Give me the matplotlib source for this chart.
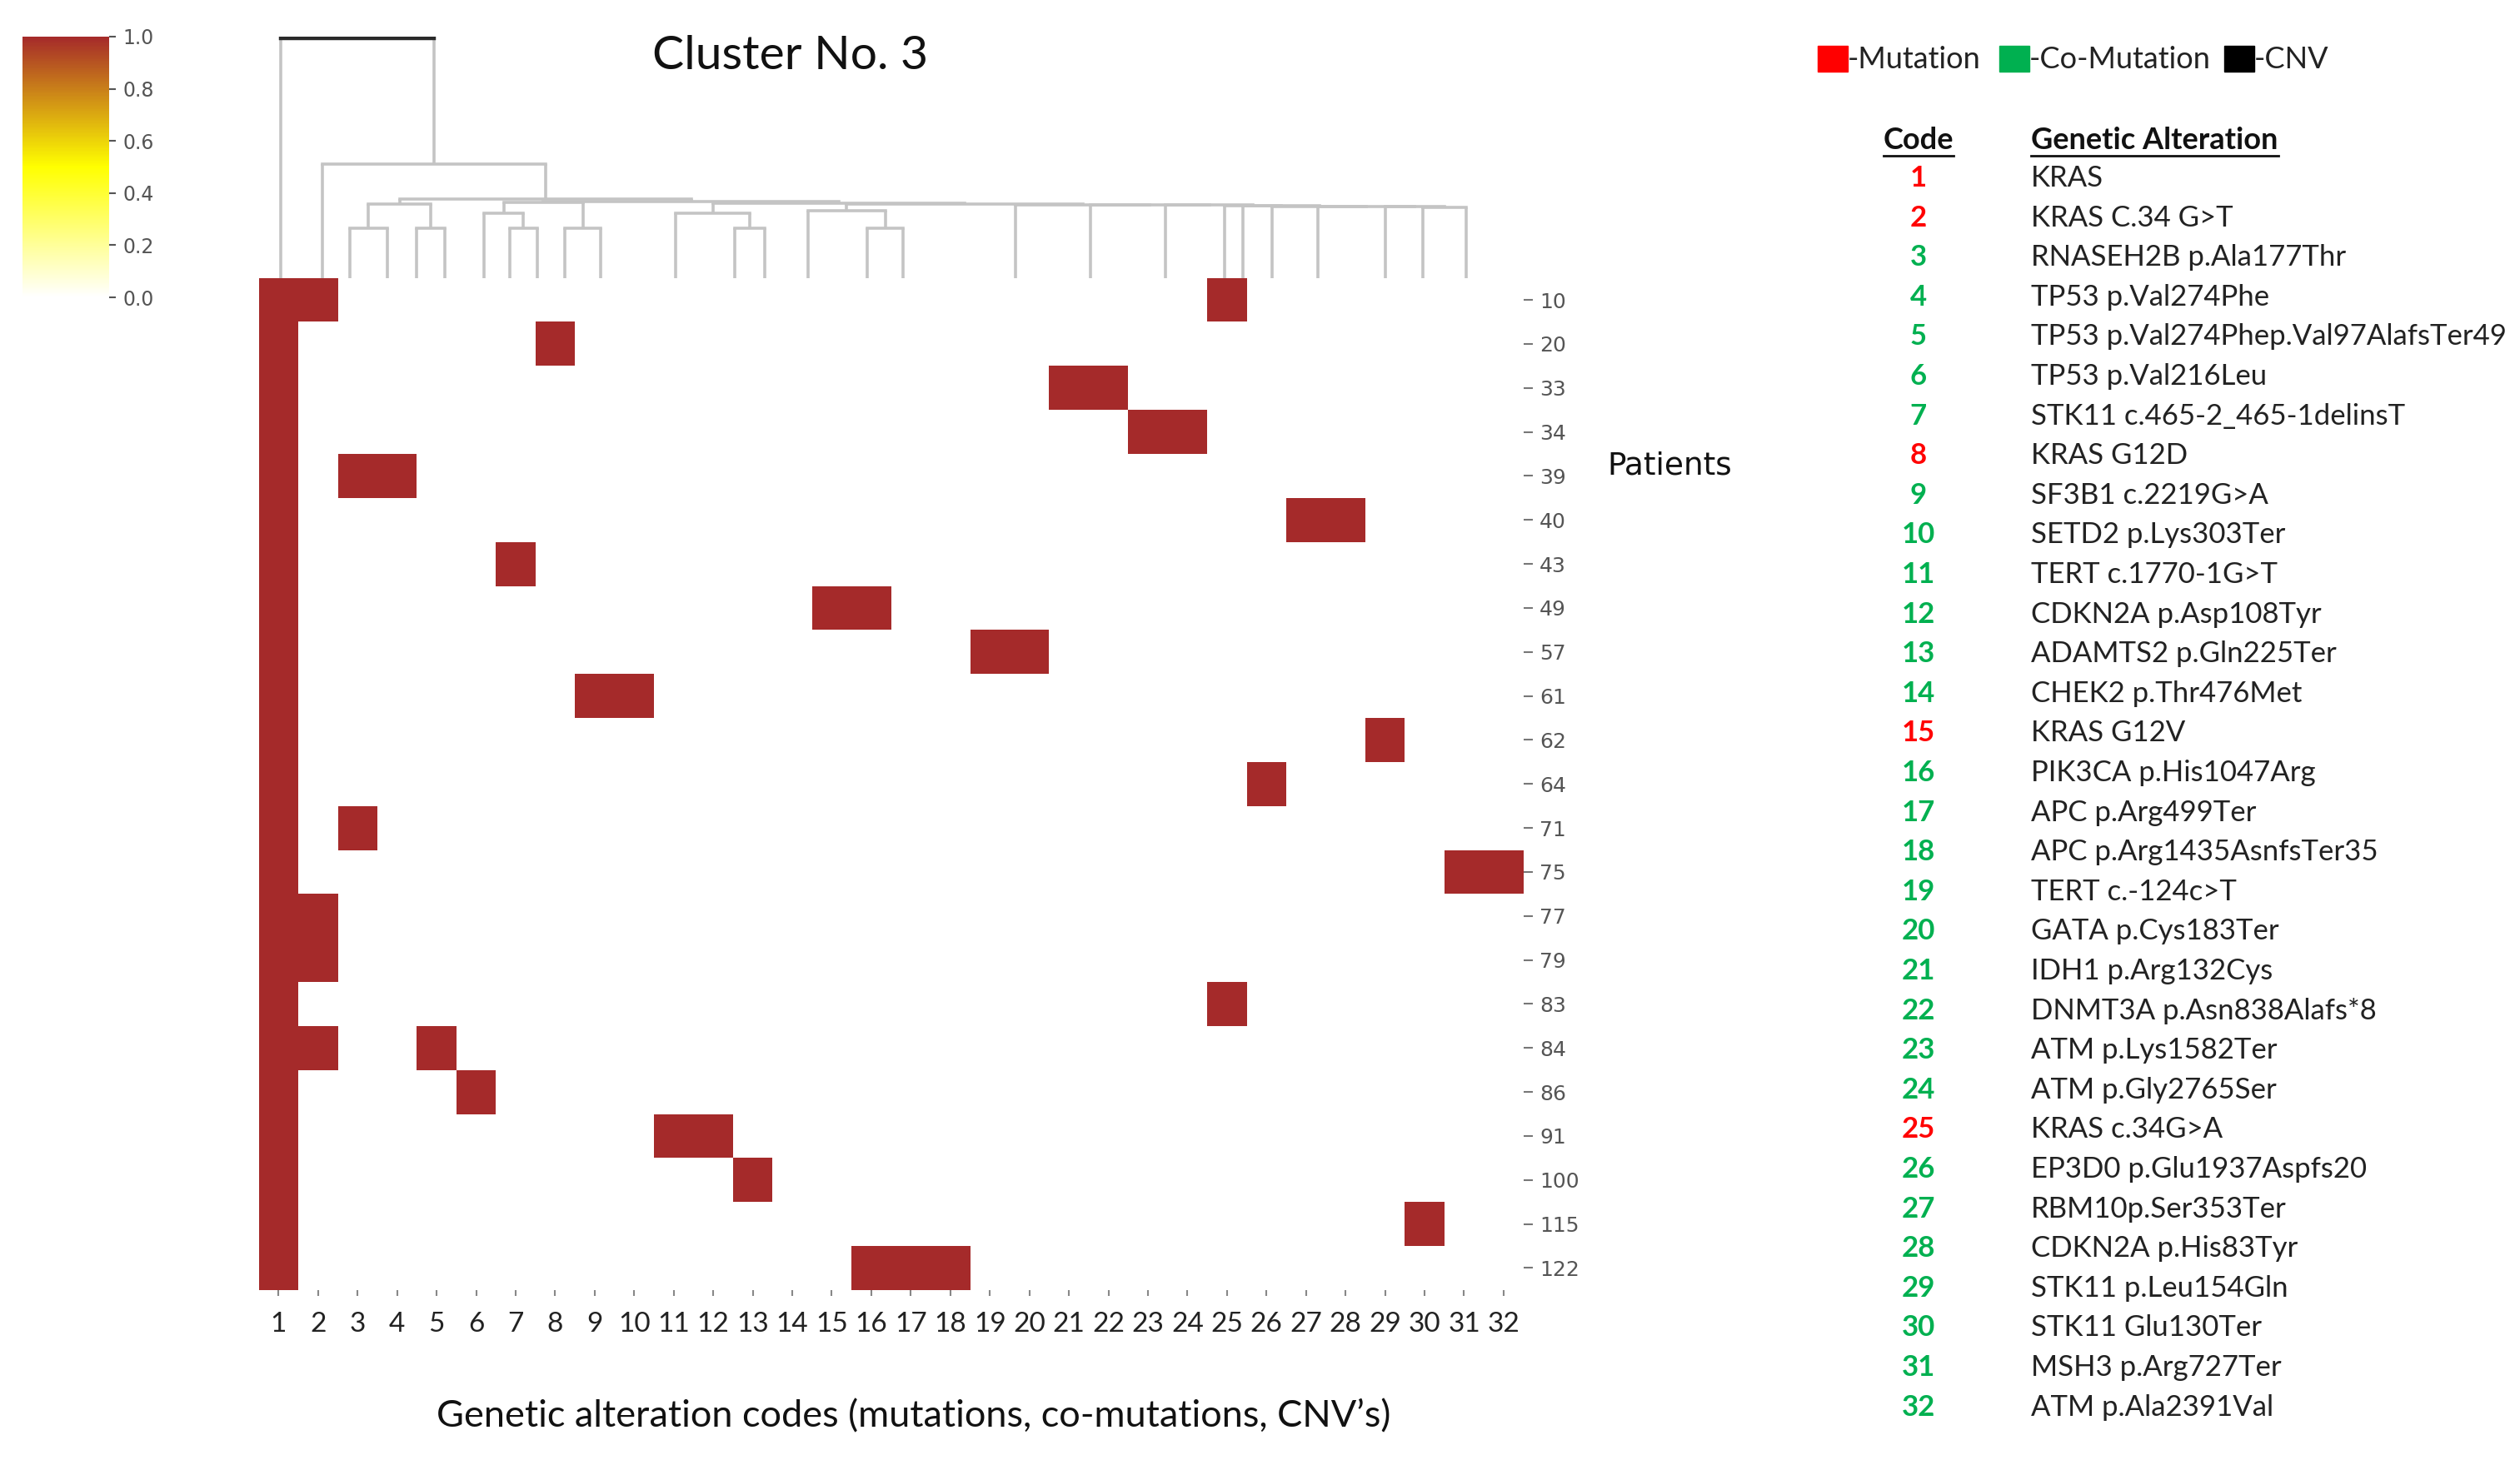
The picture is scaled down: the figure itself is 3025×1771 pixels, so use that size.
import numpy as np
import matplotlib
matplotlib.use("Agg")
import matplotlib.pyplot as plt
from matplotlib.colors import LinearSegmentedColormap, Normalize
from matplotlib.cm import ScalarMappable
from matplotlib.patches import Rectangle
from matplotlib.lines import Line2D

NARROW = ["Lato", "DejaVu Sans"]

# ---- data ----
codes = list(range(1, 33))
patients = ["10", "20", "33", "34", "39", "40", "43", "49", "57", "61", "62", "64",
            "71", "75", "77", "79", "83", "84", "86", "91", "100", "115", "122"]

# codes altered in each patient
hits = {
    "10": [1, 2, 25], "20": [1, 8], "33": [1, 21, 22], "34": [1, 23, 24],
    "39": [1, 3, 4], "40": [1, 27, 28], "43": [1, 7], "49": [1, 15, 16],
    "57": [1, 19, 20], "61": [1, 9, 10], "62": [1, 29], "64": [1, 26],
    "71": [1, 3], "75": [1, 31, 32], "77": [1, 2], "79": [1, 2],
    "83": [1, 25], "84": [1, 2, 5], "86": [1, 6], "91": [1, 11, 12],
    "100": [1, 13], "115": [1, 30], "122": [1, 16, 17, 18],
}

alterations = [
    "KRAS", "KRAS C.34 G>T", "RNASEH2B p.Ala177Thr", "TP53 p.Val274Phe",
    "TP53 p.Val274Phep.Val97AlafsTer49", "TP53 p.Val216Leu",
    "STK11 c.465-2_465-1delinsT", "KRAS G12D", "SF3B1 c.2219G>A",
    "SETD2 p.Lys303Ter", "TERT c.1770-1G>T", "CDKN2A p.Asp108Tyr",
    "ADAMTS2 p.Gln225Ter", "CHEK2 p.Thr476Met", "KRAS G12V",
    "PIK3CA p.His1047Arg", "APC p.Arg499Ter", "APC p.Arg1435AsnfsTer35",
    "TERT c.-124c>T", "GATA p.Cys183Ter", "IDH1 p.Arg132Cys",
    "DNMT3A p.Asn838Alafs*8", "ATM p.Lys1582Ter", "ATM p.Gly2765Ser",
    "KRAS c.34G>A", "EP3D0 p.Glu1937Aspfs20", "RBM10p.Ser353Ter",
    "CDKN2A p.His83Tyr", "STK11 p.Leu154Gln", "STK11 Glu130Ter",
    "MSH3 p.Arg727Ter", "ATM p.Ala2391Val",
]
mutation_codes = [1, 2, 8, 15, 25]

# dendrogram: leaf positions (column units) and merges (name, left, right, height)
leaf_x = [0.55, 1.6, 2.3, 3.25, 4.0, 4.7, 5.7, 6.35, 7.05, 7.75, 8.65, 10.55,
          12.05, 12.8, 13.9, 15.4, 16.3, 19.15, 21.05, 22.95, 24.45, 24.9,
          25.65, 26.8, 28.5, 29.45, 30.55]
links = [
    ("A", 2, 3, 31), ("B", 4, 5, 31), ("C", 7, 8, 31), ("D", 9, 10, 31),
    ("F", 12, 13, 31), ("G", 15, 16, 31),
    ("C2", 6, "C", 40), ("E", 11, "F", 40), ("G2", 14, "G", 42),
    ("AB", "A", "B", 46), ("CD", "C2", "D", 47),
    ("K1", 25, 26, 44.0), ("K2", 24, "K1", 44.2), ("K3", 23, "K2", 44.4),
    ("K4", 22, "K3", 44.6), ("K5", 21, "K4", 44.8), ("K6", 20, "K5", 45.0),
    ("K7", 19, "K6", 45.2), ("K8", 18, "K7", 45.4), ("K9", 17, "K8", 45.6),
    ("V", "G2", "K9", 46.0), ("W", "E", "V", 46.5), ("Q", "CD", "W", 47.5),
    ("N3", "AB", "Q", 49), ("N2", 1, "N3", 71), ("ROOT", 0, "N2", 149),
]

# ---- figure ----
mat = np.zeros((len(patients), len(codes)))
for i, p in enumerate(patients):
    for c in hits[p]:
        mat[i, c - 1] = 1

cmap = LinearSegmentedColormap.from_list(
    "wyb", [(0, "#ffffff"), (0.5, "#ffff00"), (1, "#a52a2a")])

fig = plt.figure(figsize=(30.25, 17.71), dpi=100)

# heatmap
ax = fig.add_axes([0.1027, 0.1254, 0.5018, 0.6862])
ax.pcolormesh(np.arange(len(codes) + 1), np.arange(len(patients) + 1), mat,
              cmap=cmap, vmin=0, vmax=1)
ax.set_xlim(0, len(codes))
ax.set_ylim(len(patients), 0)
ax.set_xticks(np.arange(len(codes)) + 0.5)
ax.set_xticklabels(codes, family=NARROW, fontsize=24, color="#222222")
ax.set_yticks(np.arange(len(patients)) + 0.5)
ax.set_yticklabels(patients, family="DejaVu Sans", fontsize=18, color="#555555")
ax.yaxis.tick_right()
ax.tick_params(axis="x", length=5, width=1.5, color="#888888", pad=14)
ax.tick_params(axis="y", length=8, width=1.5, color="#777777", pad=6)
for s in ax.spines.values():
    s.set_visible(False)
ax.set_xlabel("Genetic alteration codes (mutations, co-mutations, CNV\u2019s)",
              family=NARROW, fontsize=32.5, color="#111111")
ax.xaxis.set_label_coords(0.518, -0.108)

# dendrogram
dax = fig.add_axes([0.1027, 0.8116, 0.5018, 0.1636])
dax.set_xlim(0, len(codes))
dax.set_ylim(0, 150)
dax.axis("off")
pos = {i: (x, 0) for i, x in enumerate(leaf_x)}
for name, a, b, h in links:
    xa, ha = pos[a]
    xb, hb = pos[b]
    dax.plot([xa, xa], [ha, h], color="#c4c4c4", lw=2.6, solid_capstyle="butt")
    dax.plot([xb, xb], [hb, h], color="#c4c4c4", lw=2.6, solid_capstyle="butt")
    dax.plot([xa, xb], [h, h], color="#2a2a2a" if name == "ROOT" else "#c4c4c4",
             lw=3.2 if name == "ROOT" else 2.6)
    pos[name] = ((xa + xb) / 2, h)

# colorbar
cax = fig.add_axes([0.0089, 0.7984, 0.0344, 0.1768])
cb = fig.colorbar(ScalarMappable(norm=Normalize(0, 1), cmap=cmap), cax=cax,
                  ticks=[0, 0.2, 0.4, 0.6, 0.8, 1.0])
cb.outline.set_visible(False)
cax.set_yticklabels(["0.0", "0.2", "0.4", "0.6", "0.8", "1.0"])
cax.tick_params(labelsize=17, colors="#555555", length=6, width=1.5, pad=6)

# titles
fig.text(0.3137, 0.962, "Cluster No. 3", family=NARROW, fontsize=41,
         ha="center", va="center", color="#111111")
fig.text(0.6377, 0.684, "Patients", family="DejaVu Sans", fontsize=27,
         ha="left", va="center", color="#111111")

# type legend
legend_items = [("#ff0000", "-Mutation", 0.7213), ("#00b050", "-Co-Mutation", 0.7934),
                ("#000000", "-CNV", 0.8826)]
for color, label, x0 in legend_items:
    fig.add_artist(Rectangle((x0, 0.9515), 0.0119, 0.0175, color=color,
                             transform=fig.transFigure))
    fig.text(x0 + 0.0119, 0.9595, label, family=NARROW, fontsize=26,
             ha="left", va="center", color="#222222")

# code table
code_x, alt_x = 0.7613, 0.806
head_y, row0_y, row_dy = 0.905, 0.8792, 0.02688
h1 = fig.text(code_x, head_y, "Code", family=NARROW, fontsize=26,
              fontweight="bold", ha="center", va="center", color="#111111")
h2 = fig.text(alt_x, head_y, "Genetic Alteration", family=NARROW, fontsize=26,
              fontweight="bold", ha="left", va="center", color="#111111")
renderer = fig.canvas.get_renderer()
W, H = fig.bbox.width, fig.bbox.height
for t in (h1, h2):
    bb = t.get_window_extent(renderer)
    fig.add_artist(Line2D([bb.x0 / W, bb.x1 / W], [bb.y0 / H - 0.001] * 2,
                          color="#111111", lw=2, transform=fig.transFigure))

for i, (c, alt) in enumerate(zip(codes, alterations)):
    y = row0_y - i * row_dy
    fig.text(code_x, y, str(c), family=NARROW, fontsize=25, fontweight="bold",
             ha="center", va="center",
             color="#ff0000" if c in mutation_codes else "#00b050")
    fig.text(alt_x, y, alt, family=NARROW, fontsize=25, ha="left", va="center",
             color="#222222")

fig.savefig("out.png", dpi=100, facecolor="white")
